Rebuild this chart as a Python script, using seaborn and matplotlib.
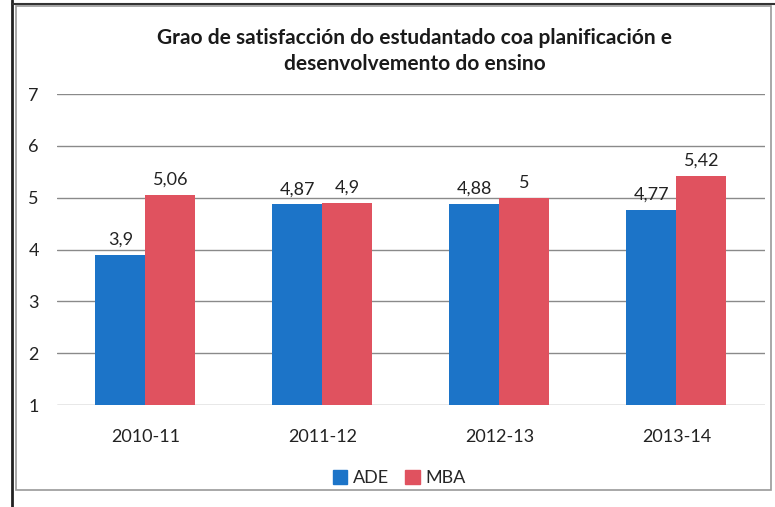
import pandas as pd
import matplotlib.pyplot as plt
import seaborn as sns
from matplotlib.patches import Rectangle
from matplotlib.lines import Line2D

# chart data
courses = ['2010-11', '2011-12', '2012-13', '2013-14']
ade = [3.9, 4.87, 4.88, 4.77]
mba = [5.06, 4.9, 5.0, 5.42]
series = ['ADE', 'MBA']
colors = ['#1C74C8', '#E0525F']

df = pd.DataFrame({
    'curso': courses * 2,
    'valor': ade + mba,
    'grupo': ['ADE'] * len(courses) + ['MBA'] * len(courses),
})

sns.set_style('white')
plt.rcParams['font.family'] = ['Lato', 'DejaVu Sans']

fig = plt.figure(figsize=(7.75, 5.07), dpi=100)
ax = fig.add_axes([0.0735, 0.201, 0.9135, 0.6135])

sns.barplot(data=df, x='curso', y='valor', hue='grupo', palette=colors,
            width=0.565, saturation=1, linewidth=0, ax=ax, legend=False, zorder=3)

ax.set_ylim(1, 7)
ax.set_yticks(range(1, 8))
ax.set_xlim(-0.5, 3.5)
ax.yaxis.grid(True, color='#8a8a8a', linewidth=1.0, zorder=0)
ax.set_axisbelow(True)
for s in ax.spines.values():
    s.set_visible(False)
ax.tick_params(axis='y', length=0, pad=13, labelsize=13, labelcolor='#222222')
ax.tick_params(axis='x', length=0, pad=17, labelsize=13, labelcolor='#222222')
ax.set_xlabel('')
ax.set_ylabel('')

# value labels with decimal comma
for cont in ax.containers:
    labels = [('%g' % b.get_height()).replace('.', ',') for b in cont]
    ax.bar_label(cont, labels=labels, padding=5, fontsize=13, color='#222222')

fig.suptitle('Grao de satisfacción do estudantado coa planificación e\ndesenvolvemento do ensino',
             x=0.535, y=0.945, fontsize=15, fontweight='bold', linespacing=1.4,
             color='#1a1a1a')

handles = [Rectangle((0, 0), 1, 1, color=c) for c in colors]
fig.legend(handles, series, loc='center', bbox_to_anchor=(0.515, 0.057), ncol=2,
           frameon=False, fontsize=13, handlelength=0.8, handleheight=0.8,
           handletextpad=0.3, columnspacing=0.9)

# scanned chart frame and page edge
fig.add_artist(Rectangle((0.02, 0.033), 0.975, 0.955, transform=fig.transFigure,
                         fill=False, edgecolor='#9a9a9a', linewidth=1.2))
fig.add_artist(Line2D([0.016, 0.016], [0.0, 1.0], transform=fig.transFigure,
                      color='#222222', linewidth=2.0))
fig.add_artist(Line2D([0.016, 1.0], [0.993, 0.993], transform=fig.transFigure,
                      color='#333333', linewidth=1.5))

fig.savefig('out.png', dpi=100)
